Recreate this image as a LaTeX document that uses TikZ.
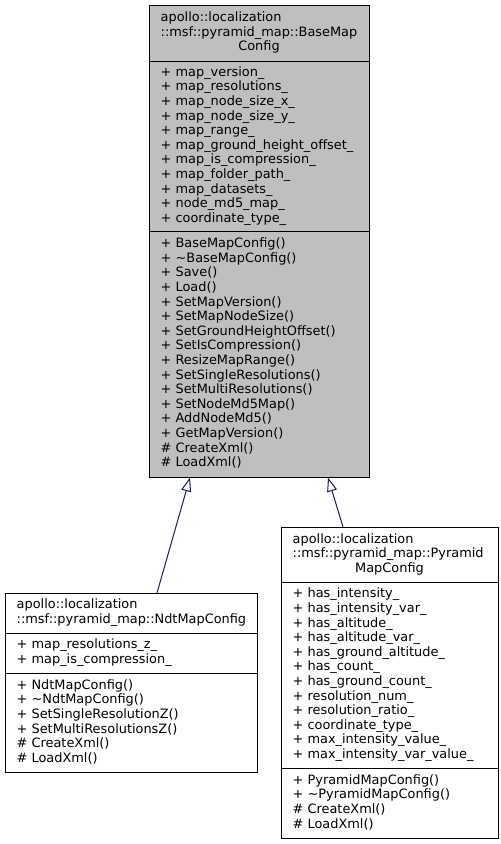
\documentclass[tikz,border=0pt]{standalone}
\usepackage{fontspec}
\setmainfont{DejaVu Sans}
\usetikzlibrary{arrows.meta}
\definecolor{edgeblue}{HTML}{191970}
\definecolor{basegray}{HTML}{BFBFBF}
\newcommand\classlines[5]{% prefix, x, ystart, step, list
  \foreach \t [count=\i from 0] in {#5} {
    \node[txt, anchor=west] (#1-\i) at (#2, {#3 + \i*#4}) {\t};
  }%
}
\begin{document}
\begin{tikzpicture}[x=1pt,y=-1pt,
  txt/.style={inner sep=0pt, font=\fontsize{12.9}{14}\selectfont, text height=9.5pt, text depth=3pt},
  classbox/.style={draw=black, line width=1pt, inner sep=0pt, anchor=north west},
  sepline/.style={draw=black, line width=1pt},
  inherit/.style={draw=edgeblue, line width=1pt, -{Triangle[open, length=14pt, width=10pt]}}]
\useasboundingbox (0,0) rectangle (501,844);

% ---- BaseMapConfig
\node[classbox, fill=basegray, minimum width=220pt, minimum height=472pt] (base) at (149,5) {};
\draw[sepline] (149,61) -- (369,61);
\draw[sepline] (149,231) -- (369,231);
\node[txt, anchor=west] (bt1) at (160.5,18.4) {apollo::localization};
\node[txt, anchor=west] (bt2) at (160.5,33) {::msf::pyramid\_map::BaseMap};
\node[txt] (bt3) at (259,47.6) {Config};
\classlines{ba}{160.5}{73}{14.6}{+ map\_version\_, + map\_resolutions\_, + map\_node\_size\_x\_, + map\_node\_size\_y\_, + map\_range\_, + map\_ground\_height\_offset\_, + map\_is\_compression\_, + map\_folder\_path\_, + map\_datasets\_, + node\_md5\_map\_, + coordinate\_type\_}
\classlines{bm}{160.5}{244.5}{14.6}{+ BaseMapConfig(), + \textasciitilde BaseMapConfig(), + Save(), + Load(), + SetMapVersion(), + SetMapNodeSize(), + SetGroundHeightOffset(), + SetIsCompression(), + ResizeMapRange(), + SetSingleResolutions(), + SetMultiResolutions(), + SetNodeMd5Map(), + AddNodeMd5(), + GetMapVersion(), \# CreateXml(), \# LoadXml()}

% ---- NdtMapConfig
\node[classbox, fill=white, minimum width=252pt, minimum height=179pt] (ndt) at (5,593) {};
\draw[sepline] (5,633) -- (257,633);
\draw[sepline] (5,673) -- (257,673);
\node[txt, anchor=west] (nt1) at (16.5,605.7) {apollo::localization};
\node[txt, anchor=west] (nt2) at (16.5,620.3) {::msf::pyramid\_map::NdtMapConfig};
\classlines{na}{16.5}{645.7}{14.6}{+ map\_resolutions\_z\_, + map\_is\_compression\_}
\classlines{nm}{16.5}{686}{14.6}{+ NdtMapConfig(), + \textasciitilde NdtMapConfig(), + SetSingleResolutionZ(), + SetMultiResolutionsZ(), \# CreateXml(), \# LoadXml()}

% ---- PyramidMapConfig
\node[classbox, fill=white, minimum width=217pt, minimum height=311pt] (pyr) at (281,527) {};
\draw[sepline] (281,582) -- (498,582);
\draw[sepline] (281,768) -- (498,768);
\node[txt, anchor=west] (pt1) at (292.5,539.9) {apollo::localization};
\node[txt, anchor=west] (pt2) at (292.5,554.5) {::msf::pyramid\_map::Pyramid};
\node[txt] (pt3) at (389.5,569.1) {MapConfig};
\classlines{pa}{292.5}{594.7}{14.6}{+ has\_intensity\_, + has\_intensity\_var\_, + has\_altitude\_, + has\_altitude\_var\_, + has\_ground\_altitude\_, + has\_count\_, + has\_ground\_count\_, + resolution\_num\_, + resolution\_ratio\_, + coordinate\_type\_, + max\_intensity\_value\_, + max\_intensity\_var\_value\_}
\classlines{pm}{292.5}{781}{14.6}{+ PyramidMapConfig(), + \textasciitilde PyramidMapConfig(), \# CreateXml(), \# LoadXml()}

% ---- inheritance edges
\coordinate (ndtTop) at (157,593);
\coordinate (baseL) at (190,477.5);
\coordinate (pyrTop) at (343,527);
\coordinate (baseR) at (328,477.5);
\draw[inherit] (ndtTop) -- (baseL);
\draw[inherit] (pyrTop) -- (baseR);
\end{tikzpicture}
\end{document}
